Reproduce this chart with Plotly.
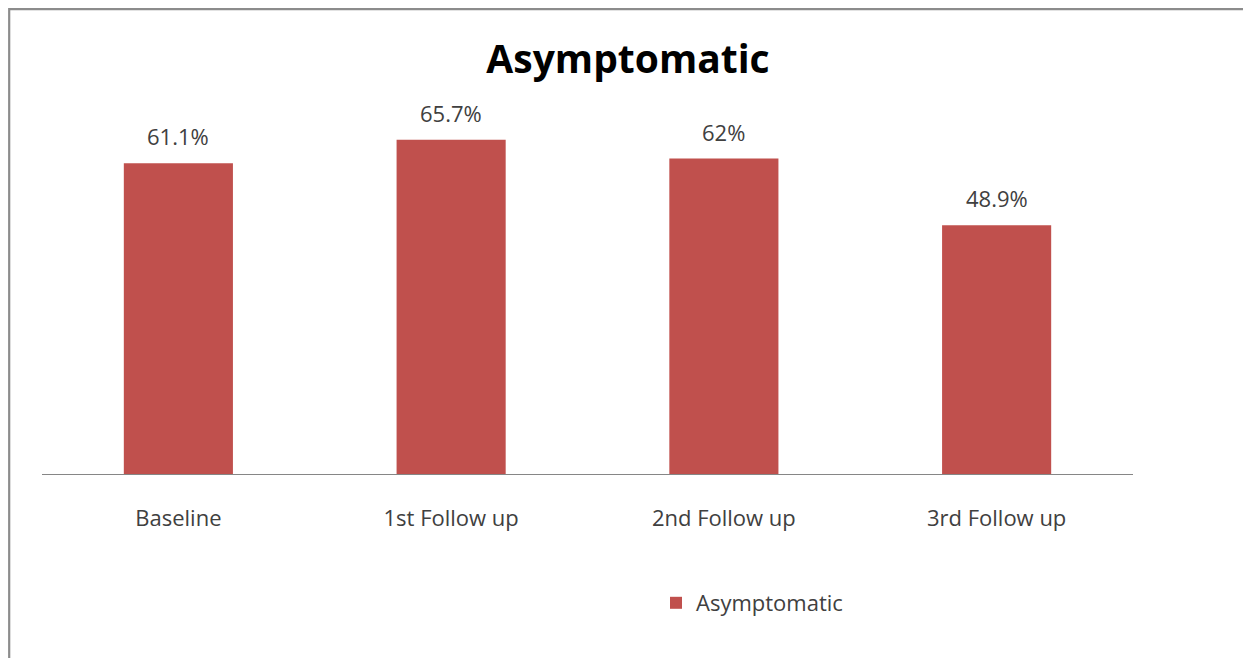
import plotly.graph_objects as go

categories = ["Baseline", "1st Follow up", "2nd Follow up", "3rd Follow up"]
values = [61.1, 65.7, 62.0, 48.9]
labels = ["61.1%", "65.7%", "62%", "48.9%"]
series_name = "Asymptomatic"
title = "Asymptomatic"

FONT = "Open Sans"
TXT = "#404040"

# page has an 8px body margin, so the figure is laid out in shifted coordinates
W, H = 1243, 650
L, R, T, B = 34, 118, 59, 184
PW = W - L - R
PH = H - T - B

fig = go.Figure()
fig.add_trace(go.Bar(
    x=categories, y=values, name=series_name,
    marker=dict(color="#C0504D", line=dict(width=0)),
    width=0.4, showlegend=True,
))

for c, v, t in zip(categories, values, labels):
    fig.add_annotation(x=c, y=v, text=t, showarrow=False, yanchor="bottom",
                       yshift=10, font=dict(family=FONT, size=22, color=TXT))

fig.update_layout(
    width=W, height=H,
    margin=dict(l=L, r=R, t=T, b=B, autoexpand=False),
    paper_bgcolor="white", plot_bgcolor="white",
    title=dict(text="<b>" + title + "</b>", x=620 / W, xref="container",
               xanchor="center", y=1 - 51 / H, yref="container", yanchor="middle",
               font=dict(family=FONT, size=39, color="black")),
    xaxis=dict(showline=True, linecolor="#868686", linewidth=1.2,
               showgrid=False, ticks="", ticklabelstandoff=24,
               tickfont=dict(family=FONT, size=22, color=TXT)),
    yaxis=dict(range=[0, 80], visible=False, showgrid=False),
    legend=dict(orientation="h", x=(744 - L) / PW, xanchor="center",
                y=(466 - 595) / PH, yanchor="middle",
                font=dict(family=FONT, size=22, color=TXT),
                itemwidth=30),
    bargap=0.6,
)

fig.add_shape(type="rect", xref="paper", yref="paper",
              x0=(1.2 - L) / PW, x1=(1241 - L) / PW,
              y0=(466 - 700) / PH, y1=(466 - 1.2) / PH,
              line=dict(color="#8c8c8c", width=2.2), fillcolor="rgba(0,0,0,0)")

fig.write_html("out.html")
